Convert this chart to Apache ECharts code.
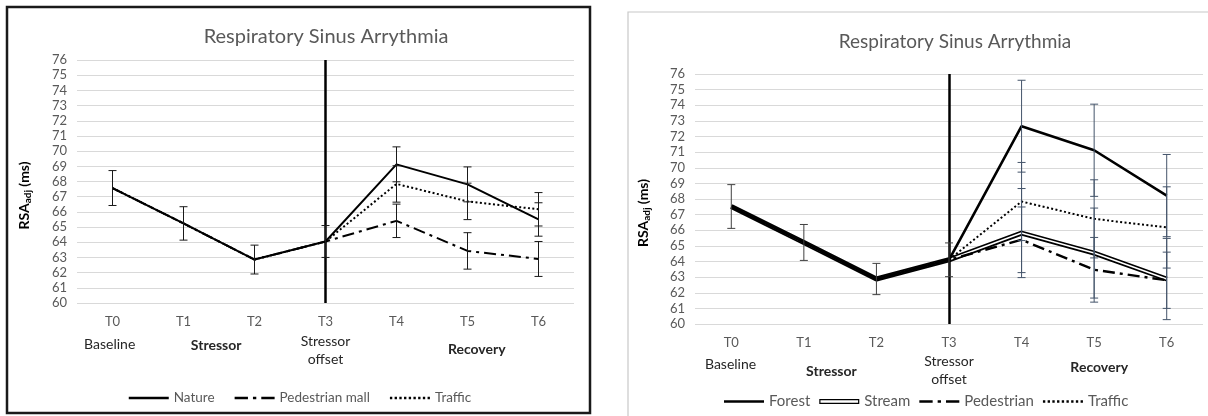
<!DOCTYPE html>
<html>
<head>
<meta charset="utf-8">
<script src="https://cdn.jsdelivr.net/npm/echarts@6/dist/echarts.min.js"></script>
<style>
  html, body { margin: 0; padding: 0; background: #fff; }
  #left { position: absolute; left: 0; top: 0; width: 600px; height: 416px; }
  #right { position: absolute; left: 600px; top: 0; width: 608px; height: 416px; }
</style>
</head>
<body>
<div id="left"></div>
<div id="right"></div>
<script>
// categories + axis range
const timePoints = ['T0', 'T1', 'T2', 'T3', 'T4', 'T5', 'T6'];
const yMin = 60, yMax = 76, yStep = 1;
const chartTitle = 'Respiratory Sinus Arrythmia';
const phaseLabels = ['Baseline', 'Stressor', 'Stressor\noffset', 'Recovery'];

// left panel: means and +/- error
const natureMean = [67.57, 65.24, 62.86, 64.05, 69.13, 67.81, 65.50];
const natureErr = [1.15, 1.10, 0.95, 1.05, 1.15, 1.15, 1.10];
const mallMean = [67.57, 65.24, 62.86, 64.05, 65.41, 63.43, 62.90];
const mallErr = [null, null, null, null, 1.10, 1.20, 1.15];
const trafficMeanA = [67.57, 65.24, 62.86, 64.05, 67.84, 66.69, 66.17];
const trafficErrA = [null, null, null, null, 1.20, 1.20, 1.10];

// right panel
const forestMean = [67.52, 65.22, 62.88, 64.11, 72.66, 71.12, 68.22];
const forestErr = [1.40, 1.15, 1.00, 1.08, 2.94, 2.95, 2.63];
const streamMean = [67.52, 65.22, 62.88, 64.11, 65.82, 64.54, 62.88];
const streamErr = [null, null, null, null, 2.85, 2.88, 2.60];
const pedMean = [67.52, 65.22, 62.88, 64.11, 65.39, 63.47, 62.80];
const pedErr = [null, null, null, null, 2.10, 2.07, 1.80];
const trafficMeanB = [67.52, 65.22, 62.88, 64.11, 67.84, 66.73, 66.18];
const trafficErrB = [null, null, null, null, 2.50, 2.50, 2.60];

const FONT = 'Lato, "Open Sans", sans-serif';

// legend icons drawn as filled paths so the dash patterns show
const solidIcon = 'path://M0,0H40V2.4H0Z';
const dashDotIcon = 'path://M0,0H12V2.4H0Z M16.5,0H19.5V2.4H16.5Z M24,0H36V2.4H24Z';
let dots = '';
for (let i = 0; i < 9; i++) {
  const x = (i * 4.4).toFixed(1);
  dots += 'M' + x + ',0h2.2v2.2h-2.2Z ';
}
const dottedIcon = 'path://' + dots.trim();
const doubleIcon = 'path://M0,0H40V1.2H0Z M0,3.6H40V4.8H0Z M0,0H1.2V4.8H0Z M38.8,0H40V4.8H38.8Z';

function lineSeries(name, data, width, type, z) {
  return {
    name: name,
    type: 'line',
    data: data,
    symbol: 'none',
    color: '#000',
    z: z || 3,
    lineStyle: { color: '#000', width: width, type: type || 'solid' },
    emphasis: { disabled: true }
  };
}

function errorBars(means, errs, color, from, to) {
  const data = [];
  means.forEach((m, i) => {
    if (errs[i] != null && i >= from && i <= to) data.push([i, m - errs[i], m + errs[i]]);
  });
  return {
    type: 'custom',
    silent: true,
    z: 6,
    data: data,
    encode: { x: 0, y: [1, 2] },
    renderItem: function (params, api) {
      const lo = api.coord([api.value(0), api.value(1)]);
      const hi = api.coord([api.value(0), api.value(2)]);
      const w = 4;
      const st = { stroke: color, lineWidth: 1, fill: null };
      return {
        type: 'group',
        children: [
          { type: 'line', shape: { x1: lo[0], y1: lo[1], x2: hi[0], y2: hi[1] }, style: st },
          { type: 'line', shape: { x1: lo[0] - w, y1: lo[1], x2: lo[0] + w, y2: lo[1] }, style: st },
          { type: 'line', shape: { x1: hi[0] - w, y1: hi[1], x2: hi[0] + w, y2: hi[1] }, style: st }
        ]
      };
    }
  };
}

function baseOption(p) {
  return {
    animation: false,
    backgroundColor: '#fff',
    title: {
      text: chartTitle,
      left: p.titleX,
      top: p.titleY,
      textAlign: 'center',
      textStyle: { fontFamily: FONT, fontSize: p.titleSize, fontWeight: 'normal', color: '#595959' }
    },
    grid: p.grid,
    legend: {
      data: p.legend,
      left: p.legendLeft,
      top: p.legendTop,
      itemWidth: 40,
      itemHeight: 10,
      itemGap: p.legendGap,
      selectedMode: false,
      symbolKeepAspect: true,
      itemStyle: { borderWidth: 0 },
      textStyle: { fontFamily: FONT, fontSize: p.legendSize, color: '#595959' }
    },
    xAxis: {
      type: 'category',
      data: timePoints,
      boundaryGap: true,
      axisLine: { show: false },
      axisTick: { show: false },
      axisLabel: { fontFamily: FONT, fontSize: 13, color: '#595959', margin: 12 }
    },
    yAxis: {
      type: 'value',
      min: yMin,
      max: yMax,
      interval: yStep,
      name: '{b|RSA}{s|adj}{b| (ms)}',
      nameLocation: 'middle',
      nameRotate: 90,
      nameGap: p.nameGap,
      nameTextStyle: {
        padding: [0, 28, 0, 0],
        rich: {
          b: { fontFamily: FONT, fontSize: 14, fontWeight: 'bold', color: '#000' },
          s: { fontFamily: FONT, fontSize: 10, fontWeight: 'bold', color: '#000', padding: [7, 0, 0, 0] }
        }
      },
      axisLine: { show: false },
      axisTick: { show: false },
      axisLabel: { fontFamily: FONT, fontSize: p.ySize, color: '#595959', margin: 10 },
      splitLine: { lineStyle: { color: '#d9d9d9', width: 1 } }
    },
    series: p.series
  };
}

function t3Line(series) {
  series.markLine = {
    symbol: 'none',
    silent: true,
    label: { show: false },
    lineStyle: { color: '#000', width: 2.5, type: 'solid' },
    data: [{ xAxis: 'T3' }]
  };
  return series;
}

function addPhaseText(chart, p) {
  const x0 = chart.convertToPixel({ xAxisIndex: 0 }, 0);
  const x1 = chart.convertToPixel({ xAxisIndex: 0 }, 1);
  const yb = chart.convertToPixel({ yAxisIndex: 0 }, yMin);
  const g = [p.frame];
  phaseLabels.forEach((txt, i) => {
    const pos = p.phasePos[i];
    g.push({
      type: 'text',
      x: x0 + pos[0] * (x1 - x0),
      y: yb + pos[1],
      silent: true,
      style: {
        text: txt,
        fontFamily: FONT,
        fontSize: 14,
        fontWeight: (i === 1 || i === 3) ? 'bold' : 'normal',
        fill: '#262626',
        align: 'center',
        verticalAlign: 'top',
        lineHeight: 18
      }
    });
  });
  chart.setOption({ graphic: g });
}

// ---- left panel
const leftSeries = [
  t3Line(lineSeries('Nature', natureMean, 2, 'solid', 4)),
  lineSeries('Pedestrian mall', mallMean, 2, [12, 5, 3, 5], 3),
  lineSeries('Traffic', trafficMeanA, 2, [2, 2.4], 3),
  errorBars(natureMean, natureErr, '#1a1a1a', 0, 6),
  errorBars(mallMean, mallErr, '#1a1a1a', 4, 6),
  errorBars(trafficMeanA, trafficErrA, '#1a1a1a', 4, 6)
];
const leftCfg = {
  titleX: 321, titleY: 22, titleSize: 20,
  grid: { left: 77, top: 60, width: 497, height: 243 },
  legend: [
    { name: 'Nature', icon: solidIcon },
    { name: 'Pedestrian mall', icon: dashDotIcon },
    { name: 'Traffic', icon: dottedIcon }
  ],
  legendLeft: 'center', legendTop: 386, legendGap: 20, legendSize: 13.5,
  nameGap: 44, ySize: 13,
  series: leftSeries,
  frame: {
    type: 'rect', silent: true, z: 100,
    shape: { x: 7, y: 7, width: 583, height: 406 },
    style: { fill: null, stroke: '#1a1a1a', lineWidth: 2.5 }
  },
  phasePos: [[-0.04, 32], [1.46, 33], [3, 29], [5.13, 37]]
};
const leftChart = echarts.init(document.getElementById('left'));
leftChart.setOption(baseOption(leftCfg));
addPhaseText(leftChart, leftCfg);

// ---- right panel
const rightSeries = [
  lineSeries('Stream', streamMean, 5, 'solid', 2),
  Object.assign(lineSeries('Stream inner', streamMean, 1.6, 'solid', 3), { color: '#fff', lineStyle: { color: '#fff', width: 1.6 } }),
  t3Line(lineSeries('Forest', forestMean, 2.6, 'solid', 4)),
  lineSeries('Pedestrian', pedMean, 2.4, [12, 5, 3, 5], 4),
  lineSeries('Traffic', trafficMeanB, 2, [2, 2.4], 4),
  errorBars(forestMean, forestErr, '#404040', 0, 3),
  errorBars(forestMean, forestErr, '#44546a', 4, 6),
  errorBars(streamMean, streamErr, '#44546a', 4, 6),
  errorBars(pedMean, pedErr, '#44546a', 4, 6),
  errorBars(trafficMeanB, trafficErrB, '#44546a', 4, 6)
];
const rightCfg = {
  titleX: 350, titleY: 27, titleSize: 19,
  grid: { left: 95, top: 74, width: 508, height: 250 },
  legend: [
    { name: 'Forest', icon: solidIcon },
    { name: 'Stream', icon: doubleIcon },
    { name: 'Pedestrian', icon: dashDotIcon },
    { name: 'Traffic', icon: dottedIcon }
  ],
  legendLeft: 119, legendTop: 389, legendGap: 9, legendSize: 15,
  nameGap: 43, ySize: 13,
  series: rightSeries,
  frame: {
    type: 'rect', silent: true, z: 100,
    shape: { x: 28, y: 12, width: 700, height: 500 },
    style: { fill: null, stroke: '#c8c8c8', lineWidth: 1.2 }
  },
  phasePos: [[-0.01, 31], [1.38, 38], [3, 28], [5.07, 34]]
};
const rightChart = echarts.init(document.getElementById('right'));
rightChart.setOption(baseOption(rightCfg));
addPhaseText(rightChart, rightCfg);
</script>
</body>
</html>
